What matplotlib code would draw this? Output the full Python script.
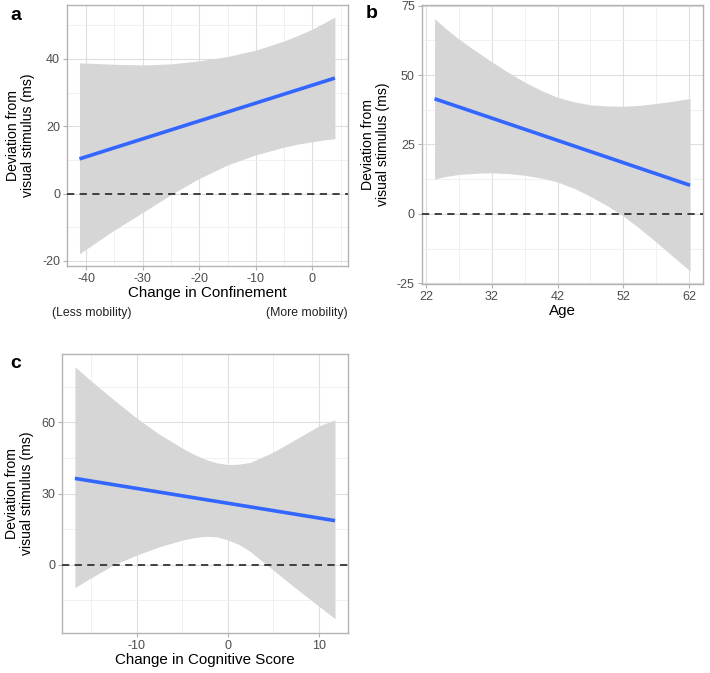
import matplotlib
matplotlib.use('Agg')
import matplotlib.pyplot as plt
from matplotlib.ticker import MultipleLocator

plt.rcParams['font.family'] = ['Liberation Sans', 'DejaVu Sans']
plt.rcParams['axes.unicode_minus'] = False

# panel a: change in confinement
a_x = [-41.2, -38, -35, -30, -25, -20, -15, -10, -5, -2.5, 0, 2, 4.0]
a_upper = [38.8, 38.6, 38.4, 38.2, 38.5, 39.4, 40.7, 42.6, 45.3, 47.0, 48.8, 50.6, 52.4]
a_lower = [-17.9, -14.2, -10.8, -5.6, -0.3, 4.5, 8.5, 11.5, 13.8, 14.7, 15.4, 15.9, 16.3]
a_fit_x = [-41.2, 4.0]
a_fit_y = [10.3, 34.3]

# panel b: age
b_x = [23.3, 25, 27, 29.5, 32, 34.5, 37, 39.5, 42, 44.5, 47, 49.5, 52, 54.5, 57, 59.5, 62.15]
b_upper = [70.4, 66.8, 63.0, 58.8, 54.8, 51.0, 47.5, 44.5, 42.0, 40.4, 39.3, 38.9, 38.8, 39.1, 39.8, 40.6, 41.6]
b_lower = [12.5, 13.5, 14.2, 14.6, 14.8, 14.5, 13.9, 12.9, 11.5, 9.2, 6.3, 3.0, -0.8, -5.3, -10.2, -15.3, -20.6]
b_fit_x = [23.3, 62.15]
b_fit_y = [41.5, 10.3]

# panel c: change in cognitive score
c_x = [-16.77, -15, -12.5, -10, -7.5, -5, -3.75, -2.5, -1.25, 0, 1.25, 2.5, 5, 7.5, 10, 11.76]
c_upper = [83.4, 77.5, 69.5, 61.8, 55.0, 49.2, 46.6, 44.5, 43.0, 42.2, 42.4, 43.2, 47.5, 53.0, 58.5, 61.1]
c_lower = [-9.6, -5.5, 0.0, 4.1, 7.6, 10.4, 11.4, 12.0, 11.8, 10.5, 8.5, 5.5, -2.3, -10.0, -17.5, -22.7]
c_fit_x = [-16.77, 11.76]
c_fit_y = [36.4, 18.6]

ylab = 'Deviation from\nvisual stimulus (ms)'


def style(ax, xmaj, xmin, ymaj, ymin, xlim, ylim):
    ax.set_xlim(*xlim)
    ax.set_ylim(*ylim)
    ax.xaxis.set_major_locator(MultipleLocator(xmaj))
    ax.xaxis.set_minor_locator(MultipleLocator(xmin))
    ax.yaxis.set_major_locator(MultipleLocator(ymaj))
    ax.yaxis.set_minor_locator(MultipleLocator(ymin))
    ax.grid(which='major', color='#DEDEDE', lw=0.8)
    ax.grid(which='minor', color='#EEEEEE', lw=0.6)
    ax.set_axisbelow(True)
    for s in ax.spines.values():
        s.set_color('#B3B3B3')
        s.set_linewidth(1.0)
    ax.tick_params(which='major', colors='#B3B3B3', labelcolor='#4D4D4D',
                   labelsize=9, length=3, width=0.8, pad=2)
    ax.tick_params(which='minor', length=0)


def panel(ax, x, lo, hi, fx, fy):
    ax.fill_between(x, lo, hi, color='#D6D6D6', lw=0, zorder=2)
    ax.axhline(0, color='#333333', lw=1.3, ls=(0, (4, 3)), zorder=3)
    ax.plot(fx, fy, color='#3366FF', lw=2.6, zorder=4, solid_capstyle='butt')


fig = plt.figure(figsize=(7.1, 6.73), dpi=100)

ax_a = fig.add_axes([0.0944, 0.6048, 0.3956, 0.3878])
panel(ax_a, a_x, a_lower, a_upper, a_fit_x, a_fit_y)
style(ax_a, 10, 5, 20, 10, (-43.4, 6.3), (-21.5, 56.0))
ax_a.set_xlabel('Change in Confinement', fontsize=10.9, labelpad=1)
ax_a.set_ylabel(ylab, fontsize=10.1, labelpad=5, linespacing=1.12)
fig.text(52 / 710, 1 - 313 / 673, '(Less mobility)', fontsize=8.8,
         ha='left', va='center', color='#222222')
fig.text(348 / 710, 1 - 313 / 673, '(More mobility)', fontsize=8.8,
         ha='right', va='center', color='#222222')

ax_b = fig.add_axes([0.594, 0.578, 0.396, 0.4146])
panel(ax_b, b_x, b_lower, b_upper, b_fit_x, b_fit_y)
style(ax_b, 10, 5, 25, 12.5, (21.35, 64.1), (-25.3, 75.3))
ax_b.set_xticks([22, 32, 42, 52, 62])
ax_b.set_xticks([27, 37, 47, 57], minor=True)
ax_b.set_xlabel('Age', fontsize=10.9, labelpad=1)
ax_b.set_ylabel(ylab, fontsize=10.1, labelpad=5, linespacing=1.12)

ax_c = fig.add_axes([0.0877, 0.0599, 0.402, 0.4141])
panel(ax_c, c_x, c_lower, c_upper, c_fit_x, c_fit_y)
style(ax_c, 10, 5, 30, 15, (-18.16, 13.15), (-28.6, 88.8))
ax_c.set_xlabel('Change in Cognitive Score', fontsize=10.9, labelpad=1)
ax_c.set_ylabel(ylab, fontsize=10.1, labelpad=5, linespacing=1.12)

fig.text(10 / 710, 1 - 15 / 673, 'a', fontsize=14, weight='bold', va='center')
fig.text(366 / 710, 1 - 14 / 673, 'b', fontsize=14, weight='bold', va='center')
fig.text(10 / 710, 1 - 364 / 673, 'c', fontsize=14, weight='bold', va='center')

fig.savefig('out.png', dpi=100)
